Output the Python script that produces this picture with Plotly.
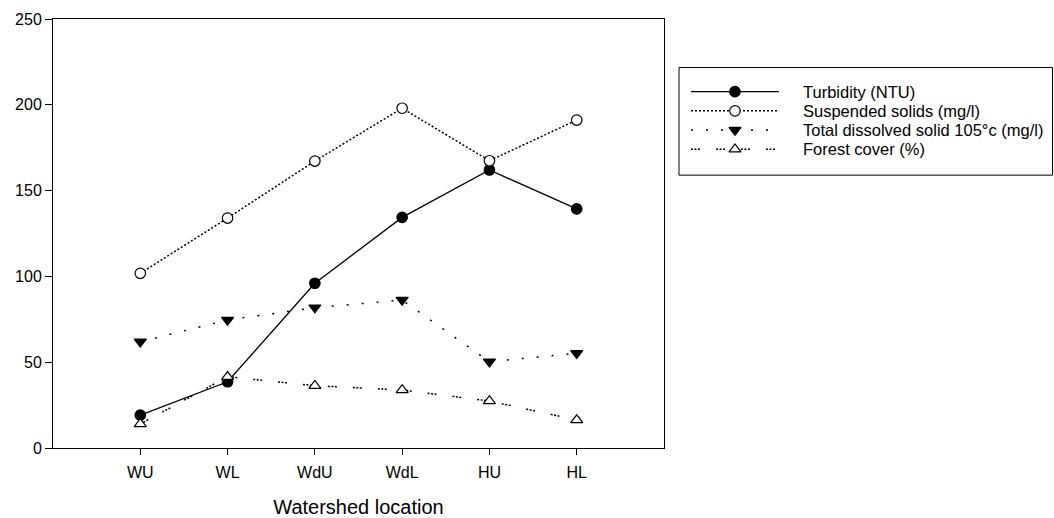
import plotly.graph_objects as go

categories = ["WU", "WL", "WdU", "WdL", "HU", "HL"]
turbidity = [19.2, 38.6, 96.0, 134.4, 162.0, 139.3]
suspended = [101.8, 134.0, 167.2, 198.0, 167.4, 191.1]
tds = [61.9, 74.6, 81.8, 86.2, 50.3, 55.2]
forest = [14.0, 41.5, 36.3, 33.8, 27.4, 16.3]

names = ["Turbidity (NTU)", "Suspended solids (mg/l)",
         "Total dissolved solid 105°c (mg/l)", "Forest cover (%)"]
y_ticks = [0, 50, 100, 150, 200, 250]

FONT = "Arial, Liberation Sans, sans-serif"
styles = [
    dict(dash="solid", symbol="circle", fill="black", width=1.3),
    dict(dash="2px,2px", symbol="circle", fill="white", width=1.5),
    dict(dash="2px,13px", symbol="triangle-down", fill="black", width=1.5),
    dict(dash="2px,1.5px,2px,1.5px,2px,16px", symbol="triangle-up", fill="white", width=1.5),
]
series = [turbidity, suspended, tds, forest]
xi = list(range(len(categories)))

fig = go.Figure()
for vals, name, st in zip(series, names, styles):
    fig.add_trace(go.Scatter(
        x=xi, y=vals, name=name, mode="lines+markers",
        line=dict(color="black", width=st["width"], dash=st["dash"]),
        marker=dict(symbol=st["symbol"], size=10.5, color=st["fill"],
                    line=dict(color="black", width=1.2)),
        showlegend=False,
    ))

# custom legend (samples on a helper axis)
for row, (name, st) in enumerate(zip(names, styles), start=1):
    fig.add_trace(go.Scatter(
        x=[0, 0.5, 1], y=[row, row, row], mode="lines",
        xaxis="x2", yaxis="y2", showlegend=False, hoverinfo="skip",
        line=dict(color="black", width=st["width"], dash=st["dash"]),
    ))
    fig.add_trace(go.Scatter(
        x=[0.5], y=[row], mode="markers",
        xaxis="x2", yaxis="y2", showlegend=False, hoverinfo="skip",
        marker=dict(symbol=st["symbol"], size=10.5, color=st["fill"],
                    line=dict(color="black", width=1.2)),
    ))
    fig.add_annotation(x=0.748, xref="paper", y=row, yref="y2", text=name,
                       showarrow=False, xanchor="left", yanchor="middle",
                       font=dict(family=FONT, size=16.5, color="black"))

fig.add_shape(type="rect", xref="paper", yref="paper",
              x0=0.626, x1=0.9995, y0=0.636, y1=0.887,
              line=dict(color="black", width=1))

fig.update_layout(
    width=1054, height=518,
    margin=dict(l=53, r=1, t=19, b=70),
    plot_bgcolor="white", paper_bgcolor="white",
    font=dict(family=FONT, size=16, color="black"),
    xaxis=dict(domain=[0, 0.611], range=[-1, 6], tickmode="array",
               tickvals=xi, ticktext=categories, showline=True, mirror=True,
               linecolor="black", linewidth=1, ticks="outside", ticklen=6,
               tickcolor="black", showgrid=False, zeroline=False, automargin=False,
               ticklabelstandoff=4,
               title=dict(text="Watershed location", font=dict(size=20), standoff=22)),
    yaxis=dict(range=[0, 250], tickvals=y_ticks, showline=True, mirror=True,
               linecolor="black", linewidth=1, ticks="outside", ticklen=7,
               tickcolor="black", showgrid=False, zeroline=False, automargin=False),
    xaxis2=dict(domain=[0.638, 0.726], range=[0, 1], visible=False, anchor="y2"),
    yaxis2=dict(domain=[0.674, 0.853], range=[4.5, 0.5], visible=False, anchor="x2"),
)

fig.write_html("out.html", config={"displayModeBar": False},
               post_script="document.body.style.margin='0';document.body.style.overflow='hidden';")
